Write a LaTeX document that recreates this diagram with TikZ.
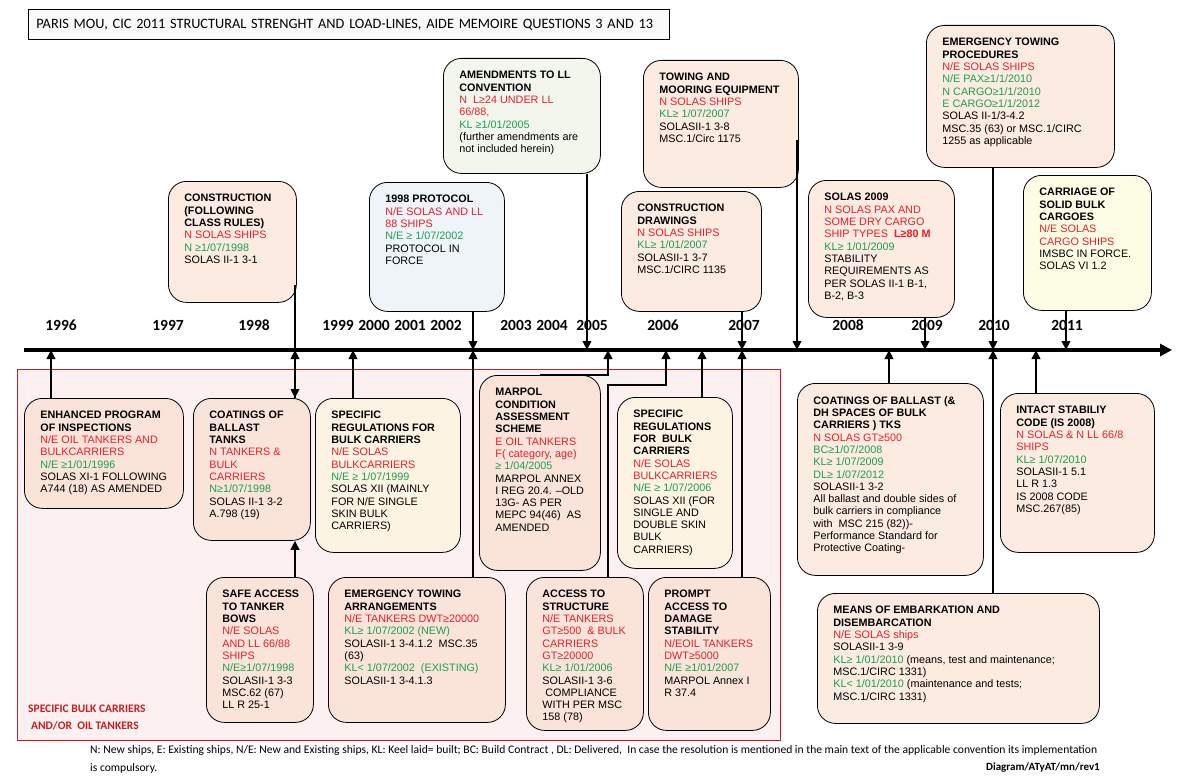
\documentclass[tikz,border=0pt]{standalone}
\usepackage{fontspec}
\setmainfont{Liberation Sans}
\setsansfont{Liberation Sans}
\newfontfamily\calibri{Carlito}
\usetikzlibrary{arrows.meta}
\usetikzlibrary{shapes}
\definecolor{tred}{RGB}{235,30,40}
\definecolor{tgreen}{RGB}{25,160,80}
\definecolor{peach}{RGB}{252,235,225}
\definecolor{rose}{RGB}{250,228,218}
\definecolor{cream}{RGB}{253,243,226}
\definecolor{lemon}{RGB}{253,253,230}
\definecolor{sky}{RGB}{239,244,249}
\definecolor{sage}{RGB}{243,246,237}
\definecolor{zonefill}{RGB}{253,240,240}
\definecolor{zoneline}{RGB}{200,30,35}
\definecolor{titlefill}{RGB}{250,250,250}
\newcommand{\rtext}[1]{\textcolor{tred}{#1}}
\newcommand{\gtext}[1]{\textcolor{tgreen}{#1}}
\newcommand{\boxtext}[3]{\parbox[c][#2][t]{#1}{\raggedright\leftskip=16pt\vspace*{13pt}#3}}

\begin{document}
\begin{tikzpicture}[x = 1pt, y = -1pt, font=\sffamily]
	\tikzstyle{boxStyle} = [draw, line width = 0.8pt, rounded corners = 18pt, inner sep = 0pt, anchor = north west, font = \fontsize{10.8}{12.3}\selectfont]
	\tikzstyle{peachStyle} = [boxStyle, fill = peach]
	\tikzstyle{roseStyle} = [boxStyle, fill = rose]
	\tikzstyle{creamStyle} = [boxStyle, fill = cream]
	\tikzstyle{lemonStyle} = [boxStyle, fill = lemon]
	\tikzstyle{skyStyle} = [boxStyle, fill = sky]
	\tikzstyle{sageStyle} = [boxStyle, fill = sage]
	\tikzstyle{titleStyle} = [draw, line width = 0.8pt, fill = titlefill, anchor = north west, text width = 625pt, inner xsep = 8pt, align = left, minimum height = 30pt, font = \calibri\fontsize{14.3}{16}\selectfont]
	\tikzstyle{zoneStyle} = [draw = zoneline, fill = zonefill, line width = 0.8pt, anchor = north west, minimum width = 763pt, minimum height = 371pt, inner sep = 0pt]
	\tikzstyle{zoneLabelStyle} = [anchor = west, align = left, inner sep = 0pt, text = zoneline, font = \calibri\bfseries\fontsize{11.5}{17}\selectfont]
	\tikzstyle{yearStyle} = [inner sep = 0pt, font = \calibri\bfseries\fontsize{15.5}{18}\selectfont]
	\tikzstyle{footStyle} = [anchor = west, inner sep = 0pt, font = \calibri\fontsize{11.6}{13}\selectfont]
	\tikzstyle{axisStyle} = [line width = 4.5pt, -{Triangle[length = 12pt, width = 12pt]}]
	\tikzstyle{linkStyle} = [line width = 2.4pt, -{Triangle[length = 9pt, width = 8.5pt]}]
	\useasboundingbox (0,0) rectangle (1177,776);
	\node[titleStyle] (title) at (28,9) {PARIS MOU, CIC 2011 STRUCTURAL STRENGHT AND LOAD-LINES, AIDE MEMOIRE QUESTIONS 3 AND 13};
	\node[zoneStyle] (zone) at (17,369) {};
	\node[zoneLabelStyle] (zonelabel) at (28,717) {SPECIFIC BULK CARRIERS\\\hspace*{3pt}AND/OR\ \ OIL TANKERS};
	\node[peachStyle] (con) at (168,181) {\boxtext{128pt}{121pt}{\textbf{CONSTRUCTION\\(FOLLOWING\\CLASS RULES)}\\\rtext{N SOLAS SHIPS}\\\gtext{N ≥1/07/1998}\\SOLAS II-1 3-1}};
	\node[skyStyle] (prot) at (369,182) {\boxtext{135pt}{129pt}{\textbf{1998 PROTOCOL}\\\rtext{N/E SOLAS AND LL\\88 SHIPS}\\\gtext{N/E ≥ 1/07/2002}\\PROTOCOL IN\\FORCE}};
	\node[sageStyle] (amend) at (443,58) {\boxtext{157pt}{115pt}{\textbf{AMENDMENTS TO LL\\CONVENTION}\\\rtext{N\ \ L≥24 UNDER LL\\66/88,}\\\gtext{KL ≥1/01/2005}\\(further amendments are\\not included herein)}};
	\node[peachStyle] (tow) at (643,60) {\boxtext{155pt}{127pt}{\textbf{TOWING AND\\MOORING EQUIPMENT}\\\rtext{N SOLAS SHIPS}\\\gtext{KL≥ 1/07/2007}\\SOLASII-1 3-8\\MSC.1/Circ 1175}};
	\node[peachStyle] (dwg) at (621,191) {\boxtext{140pt}{120pt}{\textbf{CONSTRUCTION\\DRAWINGS}\\\rtext{N SOLAS SHIPS}\\\gtext{KL≥ 1/01/2007}\\SOLASII-1 3-7\\MSC.1/CIRC 1135}};
	\node[peachStyle] (s09) at (808,180) {\boxtext{146pt}{137pt}{\textbf{SOLAS 2009}\\\rtext{N SOLAS PAX AND\\SOME DRY CARGO\\SHIP TYPES\ \ \textbf{L≥80 M}}\\\gtext{KL≥ 1/01/2009}\\STABILITY\\REQUIREMENTS AS\\PER SOLAS II-1 B-1,\\B-2, B-3}};
	\node[peachStyle] (etp) at (926,25) {\boxtext{188pt}{142pt}{\textbf{EMERGENCY TOWING\\PROCEDURES}\\\rtext{N/E SOLAS SHIPS}\\\gtext{N/E PAX≥1/1/2010\\N CARGO≥1/1/2010\\E CARGO≥1/1/2012}\\SOLAS II-1/3-4.2\\MSC.35 (63) or MSC.1/CIRC\\1255 as applicable}};
	\node[lemonStyle] (cargo) at (1023,175) {\boxtext{128pt}{135pt}{\textbf{CARRIAGE OF\\SOLID BULK\\CARGOES}\\\rtext{N/E SOLAS\\CARGO SHIPS}\\IMSBC IN FORCE.\\SOLAS VI 1.2}};
	\node[roseStyle] (enh) at (24,398) {\boxtext{159pt}{110pt}{\textbf{ENHANCED PROGRAM\\OF INSPECTIONS}\\\rtext{N/E OIL TANKERS AND\\BULKCARRIERS}\\\gtext{N/E ≥1/01/1996}\\SOLAS XI-1 FOLLOWING\\A744 (18) AS AMENDED}};
	\node[roseStyle] (coat) at (193,398) {\boxtext{117pt}{142pt}{\textbf{COATINGS OF\\BALLAST\\TANKS}\\\rtext{N TANKERS \&\\BULK\\CARRIERS}\\\gtext{N≥1/07/1998}\\SOLAS II-1 3-2\\A.798 (19)}};
	\node[creamStyle] (sp99) at (315,398) {\boxtext{145pt}{154pt}{\textbf{SPECIFIC\\REGULATIONS FOR\\BULK CARRIERS}\\\rtext{N/E SOLAS\\BULKCARRIERS}\\\gtext{N/E ≥ 1/07/1999}\\SOLAS XII (MAINLY\\FOR N/E SINGLE\\SKIN BULK\\CARRIERS)}};
	\node[roseStyle] (marpol) at (479,375) {\boxtext{121pt}{195pt}{\textbf{MARPOL\\CONDITION\\ASSESSMENT\\SCHEME}\\\rtext{E OIL TANKERS\\F( category, age)}\\\gtext{≥ 1/04/2005}\\MARPOL ANNEX\\I REG 20.4. –OLD\\13G- AS PER\\MEPC 94(46)\ \ AS\\AMENDED}};
	\node[creamStyle] (sp06) at (617,397) {\boxtext{115pt}{171pt}{\textbf{SPECIFIC\\REGULATIONS\\FOR\ \ BULK\\CARRIERS}\\\rtext{N/E SOLAS\\BULKCARRIERS}\\\gtext{N/E ≥ 1/07/2006}\\SOLAS XII (FOR\\SINGLE AND\\DOUBLE SKIN\\BULK\\CARRIERS)}};
	\node[peachStyle] (dh) at (797,383) {\boxtext{186pt}{192pt}{\textbf{COATINGS OF BALLAST (\&\\DH SPACES OF BULK\\CARRIERS ) TKS}\\\rtext{N SOLAS GT≥500}\\\gtext{BC≥1/07/2008\\KL≥ 1/07/2009\\DL≥ 1/07/2012}\\SOLASII-1 3-2\\All ballast and double sides of\\bulk carriers in compliance\\with\ \ MSC 215 (82))-\\Performance Standard for\\Protective Coating-}};
	\node[peachStyle] (intact) at (1000,393) {\boxtext{154pt}{159pt}{\textbf{INTACT STABILIY\\CODE (IS 2008)}\\\rtext{N SOLAS \& N LL 66/8\\SHIPS}\\\gtext{KL≥ 1/07/2010}\\SOLASII-1 5.1\\LL R 1.3\\IS 2008 CODE\\MSC.267(85)}};
	\node[roseStyle] (safe) at (206,577) {\boxtext{107pt}{145pt}{\textbf{SAFE ACCESS\\TO TANKER\\BOWS}\\\rtext{N/E SOLAS\\AND LL 66/88\\SHIPS}\\\gtext{N/E≥1/07/1998}\\SOLASII-1 3-3\\MSC.62 (67)\\LL R 25-1}};
	\node[roseStyle] (eta) at (328,577) {\boxtext{177pt}{145pt}{\textbf{EMERGENCY TOWING\\ARRANGEMENTS}\\\rtext{N/E TANKERS DWT≥20000}\\\gtext{KL≥ 1/07/2002 (NEW)}\\SOLASII-1 3-4.1.2\ \ MSC.35\\(63)\\\gtext{KL< 1/07/2002\ \ (EXISTING)}\\SOLASII-1 3-4.1.3}};
	\node[roseStyle] (acc) at (526,577) {\boxtext{117pt}{153pt}{\textbf{ACCESS TO\\STRUCTURE}\\\rtext{N/E TANKERS\\GT≥500\ \ \& BULK\\CARRIERS\\GT≥20000}\\\gtext{KL≥ 1/01/2006}\\SOLASII-1 3-6\\\hspace*{3pt}COMPLIANCE\\WITH PER MSC\\158 (78)}};
	\node[roseStyle] (prompt) at (648,577) {\boxtext{122pt}{153pt}{\textbf{PROMPT\\ACCESS TO\\DAMAGE\\STABILITY}\\\rtext{N/EOIL TANKERS\\DWT≥5000}\\\gtext{N/E ≥1/01/2007}\\MARPOL Annex I\\R 37.4}};
	\node[peachStyle] (means) at (817,593) {\boxtext{282pt}{130pt}{\textbf{MEANS OF EMBARKATION AND\\DISEMBARCATION}\\\rtext{N/E SOLAS ships}\\SOLASII-1 3-9\\\gtext{KL≥ 1/01/2010} (means, test and maintenance;\\MSC.1/CIRC 1331)\\\gtext{KL< 1/01/2010} (maintenance and tests;\\MSC.1/CIRC 1331)}};
	\foreach \yr/\xx in {1996/61, 1997/168, 1998/254, 1999/338, 2000/374, 2001/410, 2002/446, 2003/516, 2004/552, 2005/592, 2006/663, 2007/744, 2008/848, 2009/927, 2010/994, 2011/1067}
		\node[yearStyle] (y\yr) at (\xx,325) {\yr};
	\node[footStyle] (note1) at (90,750) {N: New ships, E: Existing ships, N/E: New and Existing ships, KL: Keel laid= built; BC: Build Contract , DL: Delivered,\ \ In case the resolution is mentioned in the main text of the applicable convention its implementation};
	\node[footStyle] (note2) at (90,768) {is compulsory.};
	\node[footStyle, anchor = east, font = \calibri\bfseries\fontsize{11}{13}\selectfont] (ref) at (1100,768) {Diagram/ATyAT/mn/rev1};
	\coordinate (axL) at (24,350);
	\coordinate (axR) at (1172,350);
	\foreach \n/\xx in {enh/51, con/295, sp99/353, prot/473, amend/587, marpol/608, acc/666, sp06/702, dwg/742, tow/797, dh/889, s09/925, etp/993, intact/1036, cargo/1066}
		\coordinate (f\n) at (\xx,350);
	\coordinate (conout) at (295,285);
	\coordinate (towout) at (797,140);
	\coordinate (accbend) at (608,385);
	\draw[axisStyle] (axL) -- (axR);
	\draw[linkStyle] (fenh |- enh.north) -- (fenh);
	\draw[linkStyle] (conout) -- (fcon |- coat.north);
	\draw[linkStyle] (fcon |- coat.north) -- (fcon);
	\draw[linkStyle] (fcon |- safe.north) -- (fcon |- coat.south);
	\draw[linkStyle] (fsp99 |- sp99.north) -- (fsp99);
	\draw[linkStyle] (fprot |- prot.south) -- (fprot);
	\draw[linkStyle] (fprot |- eta.north) -- (fprot);
	\draw[linkStyle] (famend |- amend.south) -- (famend);
	\draw[linkStyle] (marpol.north) -| (fmarpol);
	\draw[linkStyle] (fmarpol |- acc.north) -- (accbend) -| (facc);
	\draw[linkStyle] (fsp06 |- sp06.north) -- (fsp06);
	\draw[linkStyle] (fdwg |- dwg.south) -- (fdwg);
	\draw[linkStyle] (fdwg |- prompt.north) -- (fdwg);
	\draw[linkStyle] (towout) -- (ftow);
	\draw[linkStyle] (fdh |- dh.north) -- (fdh);
	\draw[linkStyle] (fs09 |- s09.south) -- (fs09);
	\draw[linkStyle] (fetp |- etp.south) -- (fetp);
	\draw[linkStyle] (fetp |- means.north) -- (fetp);
	\draw[linkStyle] (fintact |- intact.north) -- (fintact);
	\draw[linkStyle] (fcargo |- cargo.south) -- (fcargo);
\end{tikzpicture}
\end{document}
